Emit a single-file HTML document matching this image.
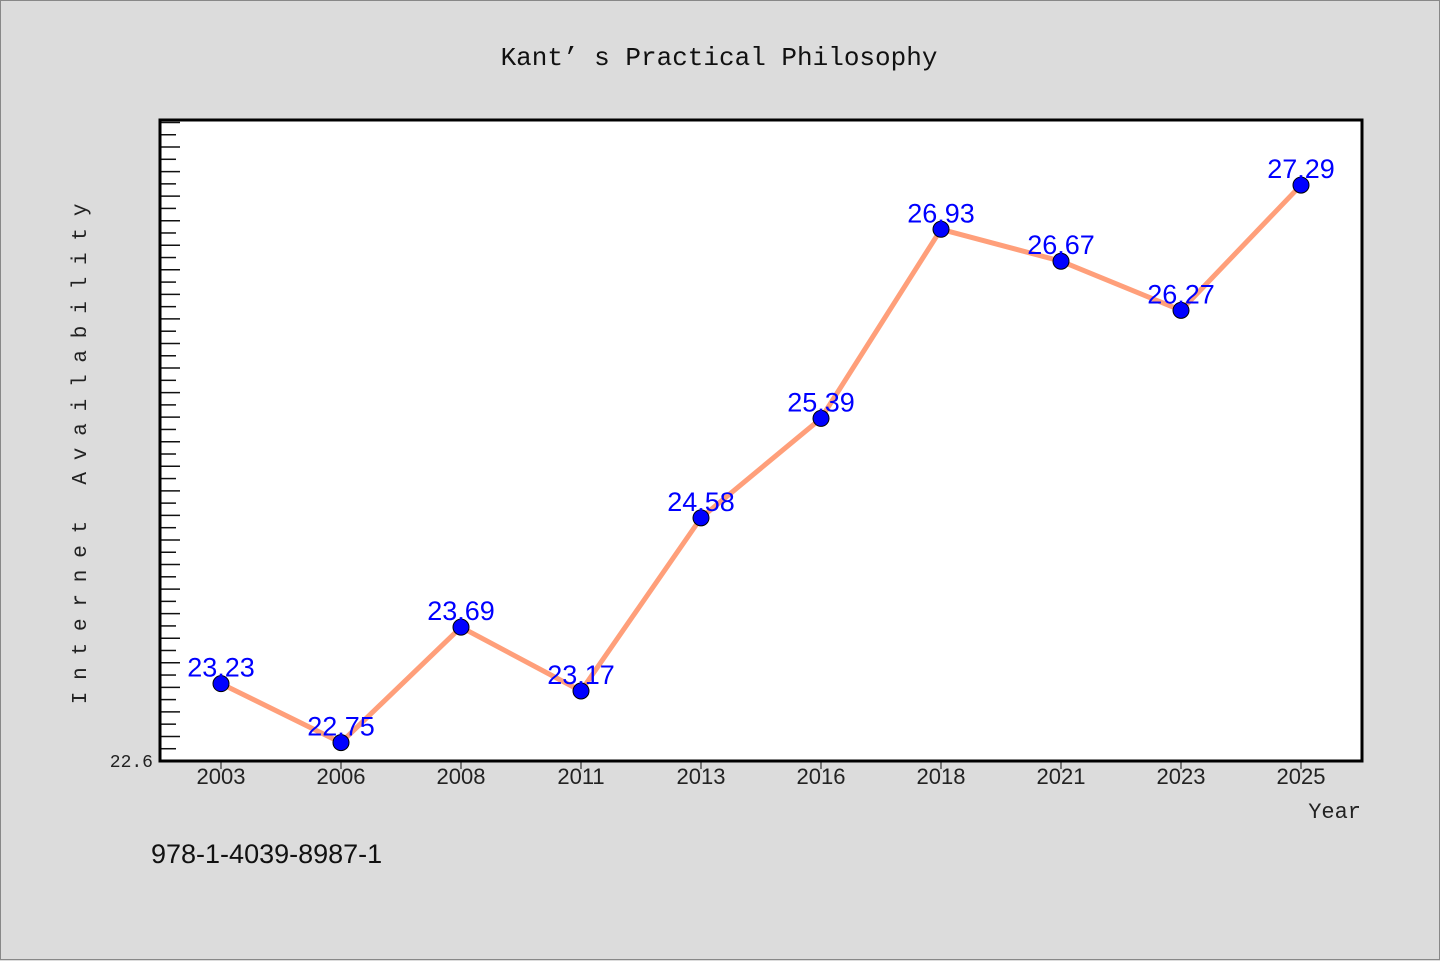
<!DOCTYPE html>
<html><head><meta charset="utf-8"><style>
html,body{margin:0;padding:0;background:#dcdcdc;}
#wrap{position:relative;width:1440px;height:960px;box-sizing:border-box;border:1px solid #888;background:#dcdcdc;font-family:"Liberation Sans","WenQuanYi Zen Hei",sans-serif;}
svg{position:absolute;left:0;top:0;}
</style></head><body>
<div id="wrap">
<svg id="chart" width="1440" height="960"></svg>
</div>
<script>
const categories=["2003","2006","2008","2011","2013","2016","2018","2021","2023","2025"];
const values=[23.23,22.75,23.69,23.17,24.58,25.39,26.93,26.67,26.27,27.29];
const yMin=22.6, yMax=27.82;
const NS="http://www.w3.org/2000/svg";
const svg=document.getElementById('chart');
const L=159,R=1361,T=119,B=760;
function ys(v){return B-(v-yMin)/(yMax-yMin)*(B-T);}
function xs(i){return 220+i*120;}
function mk(tag,attrs,parent){const e=document.createElementNS(NS,tag);for(const k in attrs)e.setAttribute(k,attrs[k]);(parent||svg).appendChild(e);return e;}
function txt(s,attrs){const e=mk('text',attrs);e.textContent=s;return e;}
const title=txt("Kant’ s Practical Philosophy",{x:718,y:64,'text-anchor':'middle','font-size':26,fill:'#111','font-family':'"WenQuanYi Zen Hei Mono","Liberation Mono",monospace'});


const plot=mk('rect',{x:L,y:T,width:R-L,height:B-T,fill:'#fff',stroke:'none'});


// y ticks
for(let k=1;;k++){const v=yMin+k*0.1;if(v>yMax)break;const y=ys(v);const long=k%2===0;
const t=mk('line',{x1:L,x2:L+(long?20:16),y1:y,y2:y,stroke:'#111','stroke-width':1.5});

}
const yl=txt("22.6",{x:152,y:766,'text-anchor':'end','font-size':18,fill:'#222','font-family':'"WenQuanYi Zen Hei Mono","Liberation Mono",monospace'});


// x ticks
categories.forEach((c,i)=>{const x=xs(i);
const t=mk('line',{x1:x,x2:x,y1:B,y2:B+8,stroke:'#111','stroke-width':1});


const l=txt(c,{x:x,y:783,'text-anchor':'middle','font-size':22,fill:'#222'});

});
const frame=mk('rect',{x:L,y:T,width:R-L,height:B-T,fill:'none',stroke:'#000','stroke-width':3});


// line
const pts=values.map((v,i)=>xs(i)+','+ys(v)).join(' ');
const line=mk('polyline',{points:pts,fill:'none',stroke:'#ff9f7a','stroke-width':5,'stroke-linejoin':'round'});


values.forEach((v,i)=>{
const p=mk('circle',{cx:xs(i),cy:ys(v),r:8,fill:'#0000ff',stroke:'#000','stroke-width':1});


const l=txt(v.toFixed(2),{x:xs(i),y:ys(v)-7,'text-anchor':'middle','font-size':27,fill:'#0000ff'});

});
const yt=txt("Internet Availability",{x:0,y:0,transform:'translate(85,447) rotate(-90)','text-anchor':'middle','font-size':21,fill:'#222','letter-spacing':'11.8','font-family':'"WenQuanYi Zen Hei Mono","Liberation Mono",monospace'});


const xt=txt("Year",{x:1360,y:817,'text-anchor':'end','font-size':22,fill:'#222','font-family':'"WenQuanYi Zen Hei Mono","Liberation Mono",monospace'});


const isbn=txt("978-1-4039-8987-1",{x:150,y:862,'font-size':27,fill:'#111'});


</script>
</body></html>
